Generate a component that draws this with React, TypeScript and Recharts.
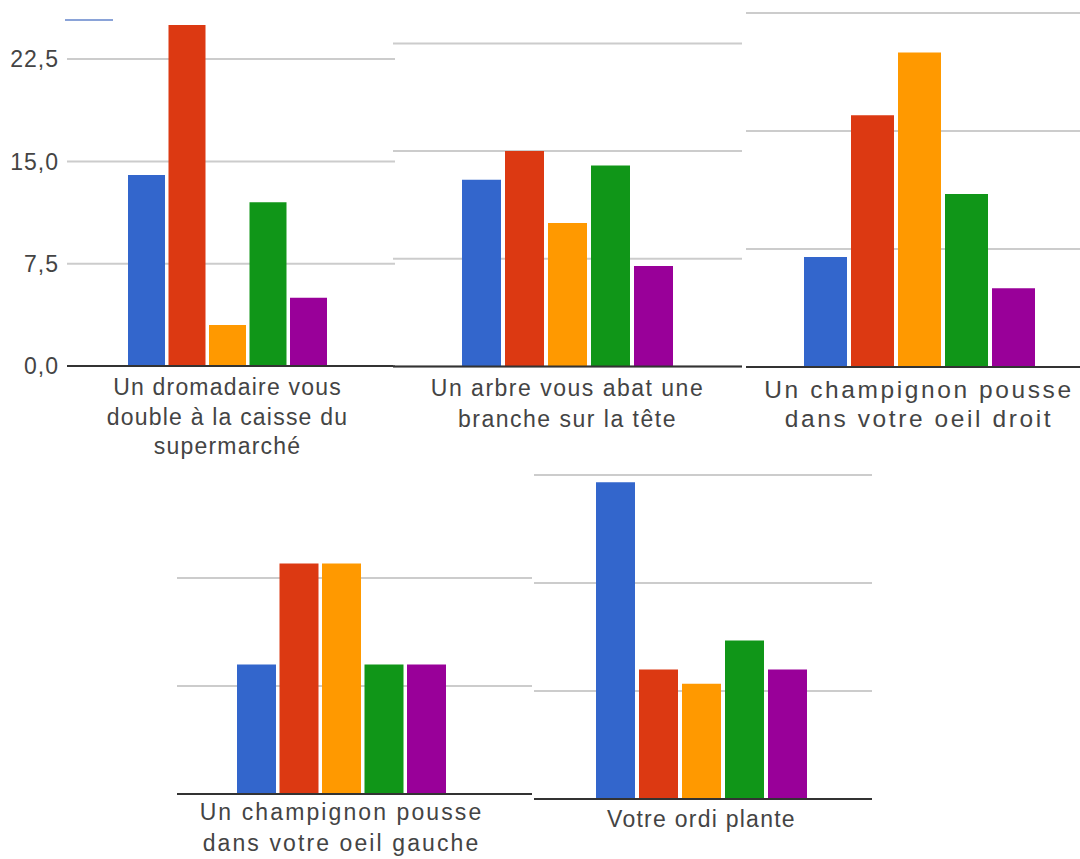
import React from 'react';
import { BarChart, Bar, XAxis, YAxis, CartesianGrid } from 'recharts';

const FONT = '"Liberation Sans", Arial, Helvetica, sans-serif';

const categories = [
  'Un dromadaire vous double à la caisse du supermarché',
  'Un arbre vous abat une branche sur la tête',
  'Un champignon pousse dans votre oeil droit',
  'Un champignon pousse dans votre oeil gauche',
  'Votre ordi plante',
];

// category labels as they wrap under each group
const categoryLines = [
  ['Un dromadaire vous', 'double à la caisse du', 'supermarché'],
  ['Un arbre vous abat une', 'branche sur la tête'],
  ['Un champignon pousse', 'dans votre oeil droit'],
  ['Un champignon pousse', 'dans votre oeil gauche'],
  ['Votre ordi plante'],
];

const seriesKeys = ['r1', 'r2', 'r3', 'r4', 'r5'];
const seriesColors = ['#3366cc', '#dc3912', '#ff9900', '#109618', '#990099'];

const blueValues = [14, 13, 7, 9, 22];
const redValues = [25, 15, 16, 16, 9];
const orangeValues = [3, 10, 20, 16, 8];
const greenValues = [12, 14, 11, 9, 11];
const purpleValues = [5, 7, 5, 9, 9];

const yTicks = [0, 7.5, 15, 22.5];

const rows = categories.map((name, i) => ({
  name,
  r1: blueValues[i],
  r2: redValues[i],
  r3: orangeValues[i],
  r4: greenValues[i],
  r5: purpleValues[i],
}));

// each piece of the collage: where it sits and how it is scaled
const panels = [
  { left: 0, top: 0, plotLeft: 67, plotRight: 395, baseline: 366, pxPerUnit: 13.64, barSize: 37, barGap: 3.5, pad: { left: 0, right: 7 }, dys: [29, 58.5, 88], fontSize: 23, spacing: 1.2, yAxis: true },
  { left: 393, top: 0, plotLeft: 393, plotRight: 742, baseline: 366.5, pxPerUnit: 14.36, barSize: 39, barGap: 4, pad: { left: 0, right: 0 }, dys: [29.5, 60.5], fontSize: 23, spacing: 1.5, yAxis: false },
  { left: 746, top: 0, plotLeft: 746, plotRight: 1080, baseline: 367, pxPerUnit: 15.73, barSize: 43, barGap: 4, pad: { left: 12, right: 0 }, dys: [31, 60], fontSize: 24.5, spacing: 2.6, yAxis: false },
  { left: 177, top: 478, plotLeft: 177, plotRight: 532, baseline: 794, pxPerUnit: 14.4, barSize: 39, barGap: 3.5, pad: { left: 0, right: 26 }, dys: [26, 57], fontSize: 23, spacing: 2.1, yAxis: false },
  { left: 534, top: 462, plotLeft: 534, plotRight: 872, baseline: 799, pxPerUnit: 14.4, barSize: 39, barGap: 4, pad: { left: 0, right: 3 }, dys: [28], fontSize: 23, spacing: 1.25, yAxis: false },
];

const AXIS_H = 100;

function CategoryTick(props: any) {
  const { x, y, lines, dys, spacing, fontSize } = props;
  return (
    <g>
      {lines.map((line: string, k: number) => (
        <text
          key={k}
          x={x}
          y={y + dys[k]}
          textAnchor="middle"
          fill="#444"
          fontSize={fontSize}
          fontFamily={FONT}
          letterSpacing={spacing}
        >
          {line}
        </text>
      ))}
    </g>
  );
}

// grid line renderer that leaves out the line on the plot's top edge
function GridLine(props: any) {
  const { x1, x2, y1, y2 } = props;
  if (y1 < 3) return <g />;
  return <line x1={x1} x2={x2} y1={y1} y2={y2} stroke="#cccccc" strokeWidth={2} />;
}

function Panel({ index }: { index: number }) {
  const p = panels[index];
  const max = (p.baseline - p.top) / p.pxPerUnit;
  const ticks = yTicks.filter((t) => t <= max);
  const width = p.plotRight - p.left;
  const height = p.baseline - p.top + AXIS_H;
  return (
    <div style={{ position: 'absolute', left: p.left, top: p.top }}>
      <BarChart
        width={width}
        height={height}
        data={[rows[index]]}
        margin={{ top: 0, right: 0, bottom: 0, left: 0 }}
        barGap={p.barGap}
      >
        <CartesianGrid vertical={false} horizontal={(gp: any) => <GridLine {...gp} />} />
        <XAxis
          dataKey="name"
          height={AXIS_H}
          padding={p.pad}
          axisLine={{ stroke: '#333', strokeWidth: 2 }}
          tickLine={false}
          tickSize={0}
          tickMargin={0}
          interval={0}
          tick={(tp: any) => (
            <CategoryTick
              {...tp}
              lines={categoryLines[index]}
              dys={p.dys}
              spacing={p.spacing}
              fontSize={p.fontSize}
            />
          )}
        />
        <YAxis
          hide={!p.yAxis}
          width={p.yAxis ? p.plotLeft - p.left : 0}
          domain={[0, max]}
          allowDataOverflow
          ticks={ticks}
          interval={0}
          axisLine={false}
          tickLine={false}
          tickSize={0}
          tickMargin={8}
          tickFormatter={(v: number) => v.toFixed(1).replace('.', ',')}
          tick={{ fill: '#444', fontSize: 23, fontFamily: FONT, letterSpacing: 1 }}
        />
        {seriesKeys.map((k, i) => (
          <Bar key={k} dataKey={k} fill={seriesColors[i]} barSize={p.barSize} isAnimationActive={false} />
        ))}
      </BarChart>
    </div>
  );
}

export default function App() {
  return (
    <div
      style={{
        position: 'absolute',
        left: 0,
        top: 0,
        width: 1080,
        height: 859,
        overflow: 'hidden',
        background: '#fff',
      }}
    >
      {/* remnant of the cropped legend */}
      <div style={{ position: 'absolute', left: 65, top: 19, width: 48, height: 2, background: '#8aa3d8' }} />
      {panels.map((_, i) => (
        <Panel key={i} index={i} />
      ))}
    </div>
  );
}
